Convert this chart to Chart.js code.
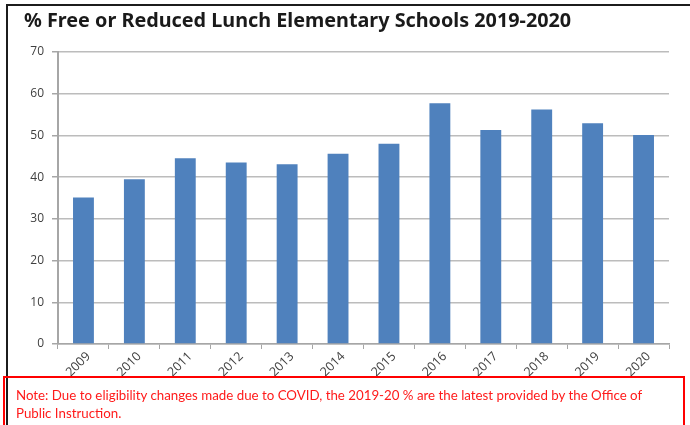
<!DOCTYPE html>
<html>
<head>
<meta charset="utf-8">
<script src="https://cdn.jsdelivr.net/npm/chart.js@4/dist/chart.umd.min.js"></script>
<style>
  body { margin: 0; background: #fff; }
  #wrap { position: relative; width: 690px; height: 425px; overflow: hidden; }
  #chart { position: absolute; left: 0; top: 0; }
  #frame { position: absolute; left: 6px; top: 4px; width: 700px; height: 440px;
           border-left: 2px solid #1c1c1c; border-top: 2px solid #1c1c1c; }
  #note { position: absolute; left: 3px; top: 376px; width: 682px; height: 60px;
          border: 2px solid #ff0000; color: #ff1a1a;
          font-family: Lato, sans-serif; font-size: 13.3px; line-height: 18px;
          padding: 8px 0 0 11px; box-sizing: border-box; }
</style>
</head>
<body>
<div id="wrap">
  <canvas id="chart" width="690" height="425"></canvas>
  <div id="frame"></div>
  <div id="note">Note: Due to eligibility changes made due to COVID, the 2019-20 % are the latest provided by the Office of<br>Public Instruction.</div>
</div>
<script>
const years = ['2009', '2010', '2011', '2012', '2013', '2014', '2015', '2016', '2017', '2018', '2019', '2020']
const lunchPct = [35.1, 39.5, 44.5, 43.5, 43.1, 45.6, 48.0, 57.7, 51.3, 56.2, 52.9, 50.1]
const yTicks = [0, 10, 20, 30, 40, 50, 60, 70]

window.onload = () => {
  render(years, lunchPct)
}

function render (labels, data) {
  const ctx = document.getElementById('chart').getContext('2d')
  new Chart(ctx, {
    type: 'bar',
    data: {
      labels,
      datasets: [{
        label: '% Free or Reduced Lunch',
        data,
        backgroundColor: '#4f81bd',
        borderWidth: 0,
        categoryPercentage: 1,
        barPercentage: 0.41
      }]
    },
    options: {
      responsive: false,
      animation: false,
      layout: { padding: { left: 24, right: 21, top: 0, bottom: 0 } },
      plugins: {
        legend: { display: false },
        tooltip: { enabled: false },
        title: {
          display: true,
          text: '% Free or Reduced Lunch Elementary Schools 2019-2020',
          align: 'start',
          color: '#1a1a1a',
          font: { family: 'Noto Sans', size: 19.8, weight: 'bold' },
          padding: { top: 9, bottom: 19.2 }
        }
      },
      scales: {
        x: {
          grid: { drawOnChartArea: false, drawTicks: true, tickLength: 5, color: '#a6a6a6' },
          border: { color: '#a6a6a6', width: 1.5 },
          ticks: {
            color: '#404040',
            font: { family: 'Open Sans', size: 12.5 },
            minRotation: 45,
            maxRotation: 45,
            autoSkip: false,
            padding: 0,
            labelOffset: 5
          },
          afterFit: (scale) => { scale.height = 81 }
        },
        y: {
          min: 0,
          max: 70,
          afterBuildTicks: (scale) => { scale.ticks = yTicks.map(v => ({ value: v })) },
          grid: { color: '#bcbcbc', lineWidth: 1.5, tickLength: 6, tickColor: '#a6a6a6' },
          border: { color: '#a6a6a6', width: 2 },
          ticks: {
            color: '#404040',
            font: { family: 'Open Sans', size: 12 },
            padding: 8
          },
          afterFit: (scale) => { scale.width = 34 }
        }
      }
    }
  })
}
</script>
</body>
</html>
